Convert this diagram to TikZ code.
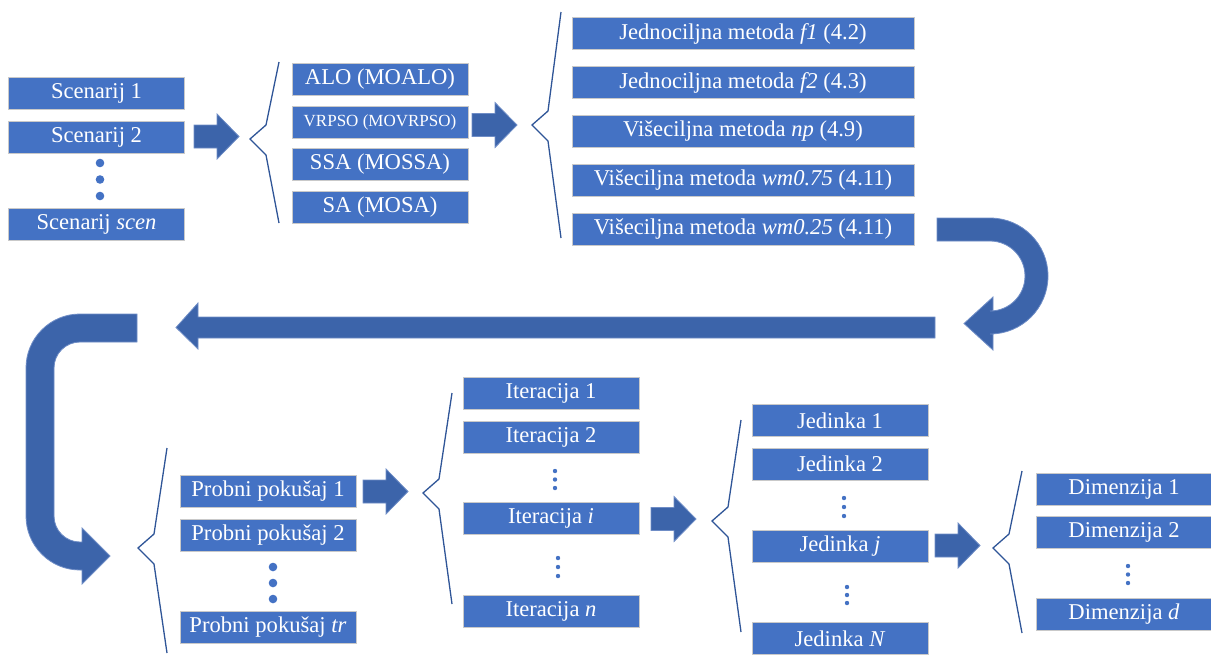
\documentclass[tikz,border=0pt]{standalone}
\usepackage{fontspec}
\setmainfont{Liberation Serif}
\usepackage{tikz}
\usetikzlibrary{positioning,calc}
\definecolor{fdBox}{HTML}{4472C4}
\definecolor{fdEdge}{HTML}{C9C9C9}
\definecolor{fdArrow}{HTML}{3C64AA}
\definecolor{fdArrowEdge}{HTML}{6F8DC6}
\definecolor{fdBrace}{HTML}{2F5597}
\newcommand{\boxfont}{\fontsize{11.3}{13}\selectfont}
\newcommand{\smallboxfont}{\fontsize{8.5}{10}\selectfont}
% block arrow pointing right, #1 = tip
\newcommand{\blockarrow}[1]{\filldraw[bigarrow] (#1) -- ++(-22,-22.5) -- ++(0,11) -- ++(-23,0)
  -- ++(0,23) -- ++(23,0) -- ++(0,11) -- cycle;}
% open brace: tip x, tip y, top y, bottom y
\newcommand{\sidebrace}[4]{\draw[curly] ({#1+29},#3) -- ({#1+16},{#2-14}) -- (#1,#2)
  -- ({#1+16},{#2+16}) -- ({#1+29},#4);}
% three dots: x, first y, gap, radius
\newcommand{\dotrow}[4]{\foreach \k in {0,1,2}{\fill[fdBox] (#1,{#2+\k*#3}) circle (#4);}}
\tikzset{
  pbox/.style={fill=fdBox,draw=fdEdge,line width=0.5pt,text=white,inner sep=0pt,
    minimum height=16pt,minimum width=88pt,font=\boxfont},
  widebox/.style={pbox,minimum width=171pt},
  bigarrow/.style={fill=fdArrow,draw=fdArrowEdge,line width=0.4pt},
  curly/.style={draw=fdBrace,line width=0.65pt,line join=miter},
}

\begin{document}
\begin{tikzpicture}[x=0.5pt,y=-0.5pt]
        \useasboundingbox (0,0) rectangle (1211,655);

        % scenarios
        \node[pbox] (scen1) at (96.5,93) {Scenarij 1};
        \node[pbox] (scen2) at (96.5,137) {Scenarij 2};
        \node[pbox] (scenN) at (96.5,224.5) {Scenarij \textit{scen}};
        \dotrow{100}{163}{16.5}{4.3}
        \blockarrow{239,136.5}

        % algorithms
        \sidebrace{250}{139}{62}{223}
        \node[pbox] (alo) at (380,79) {ALO (MOALO)};
        \node[pbox,font=\smallboxfont] (vrpso) at (380,122) {VRPSO (MOVRPSO)};
        \node[pbox] (ssa) at (380,164) {SSA (MOSSA)};
        \node[pbox] (sa) at (380,207.5) {SA (MOSA)};
        \blockarrow{517,125}

        % methods
        \sidebrace{532}{125}{12}{238}
        \node[widebox] (mf1) at (743,33.5) {Jednociljna metoda \textit{f1} (4.2)};
        \node[widebox] (mf2) at (743,82.5) {Jednociljna metoda \textit{f2} (4.3)};
        \node[widebox] (mnp) at (743,131.5) {Višeciljna metoda \textit{np} (4.9)};
        \node[widebox] (mwa) at (743,180.5) {Višeciljna metoda \textit{wm0.75} (4.11)};
        \node[widebox] (mwb) at (743,229.5) {Višeciljna metoda \textit{wm0.25} (4.11)};

        % return arrows
        \filldraw[bigarrow] (937,218) -- (990,218) arc(-90:90:58) -- (993,334) -- (993,350)
          -- (964,323.5) -- (993,297) -- (993,311) -- (990,311) arc(90:-90:35) -- (937,241) -- cycle;
        \filldraw[bigarrow] (935,317) -- (198,317) -- (198,303) -- (176,327.5) -- (198,349)
          -- (198,338) -- (935,338) -- cycle;
        \filldraw[bigarrow] (137,314) -- (80,314) arc(-90:-180:54) -- (26,516) arc(180:90:54)
          -- (82,570) -- (82,584) -- (110,556) -- (82,528) -- (82,542) -- (80,542)
          arc(90:180:26) -- (54,368) arc(180:270:26) -- (137,342) -- cycle;

        % trials
        \sidebrace{138}{548}{448}{653}
        \node[pbox] (tr1) at (268,491) {Probni pokušaj 1};
        \node[pbox] (tr2) at (268,535) {Probni pokušaj 2};
        \node[pbox] (trN) at (268,627.5) {Probni pokušaj \textit{tr}};
        \dotrow{273}{567}{16}{4.3}
        \blockarrow{408,491.5}

        % iterations
        \sidebrace{423}{493}{393}{604}
        \node[pbox] (it1) at (551,393) {Iteracija 1};
        \node[pbox] (it2) at (551,437) {Iteracija 2};
        \node[pbox] (iti) at (551,518.5) {Iteracija \textit{i}};
        \node[pbox] (itN) at (551,611) {Iteracija \textit{n}};
        \dotrow{555}{471}{8.5}{2.2}
        \dotrow{558}{558}{9}{2.2}
        \blockarrow{696,519}

        % individuals
        \sidebrace{712}{521}{420}{632}
        \node[pbox] (je1) at (840,420.5) {Jedinka 1};
        \node[pbox] (je2) at (840,464) {Jedinka 2};
        \node[pbox] (jej) at (840,546) {Jedinka \textit{j}};
        \node[pbox] (jeN) at (840,638.5) {Jedinka \textit{N}};
        \dotrow{844}{498}{9}{2.2}
        \dotrow{847}{587}{8}{2.2}
        \blockarrow{980,545.5}

        % dimensions
        \sidebrace{993}{548}{471}{633}
        \node[pbox] (di1) at (1124,489) {Dimenzija 1};
        \node[pbox] (di2) at (1124,532) {Dimenzija 2};
        \node[pbox] (diN) at (1124,614) {Dimenzija \textit{d}};
        \dotrow{1128}{566}{8.5}{2.2}
      \end{tikzpicture}
\end{document}
